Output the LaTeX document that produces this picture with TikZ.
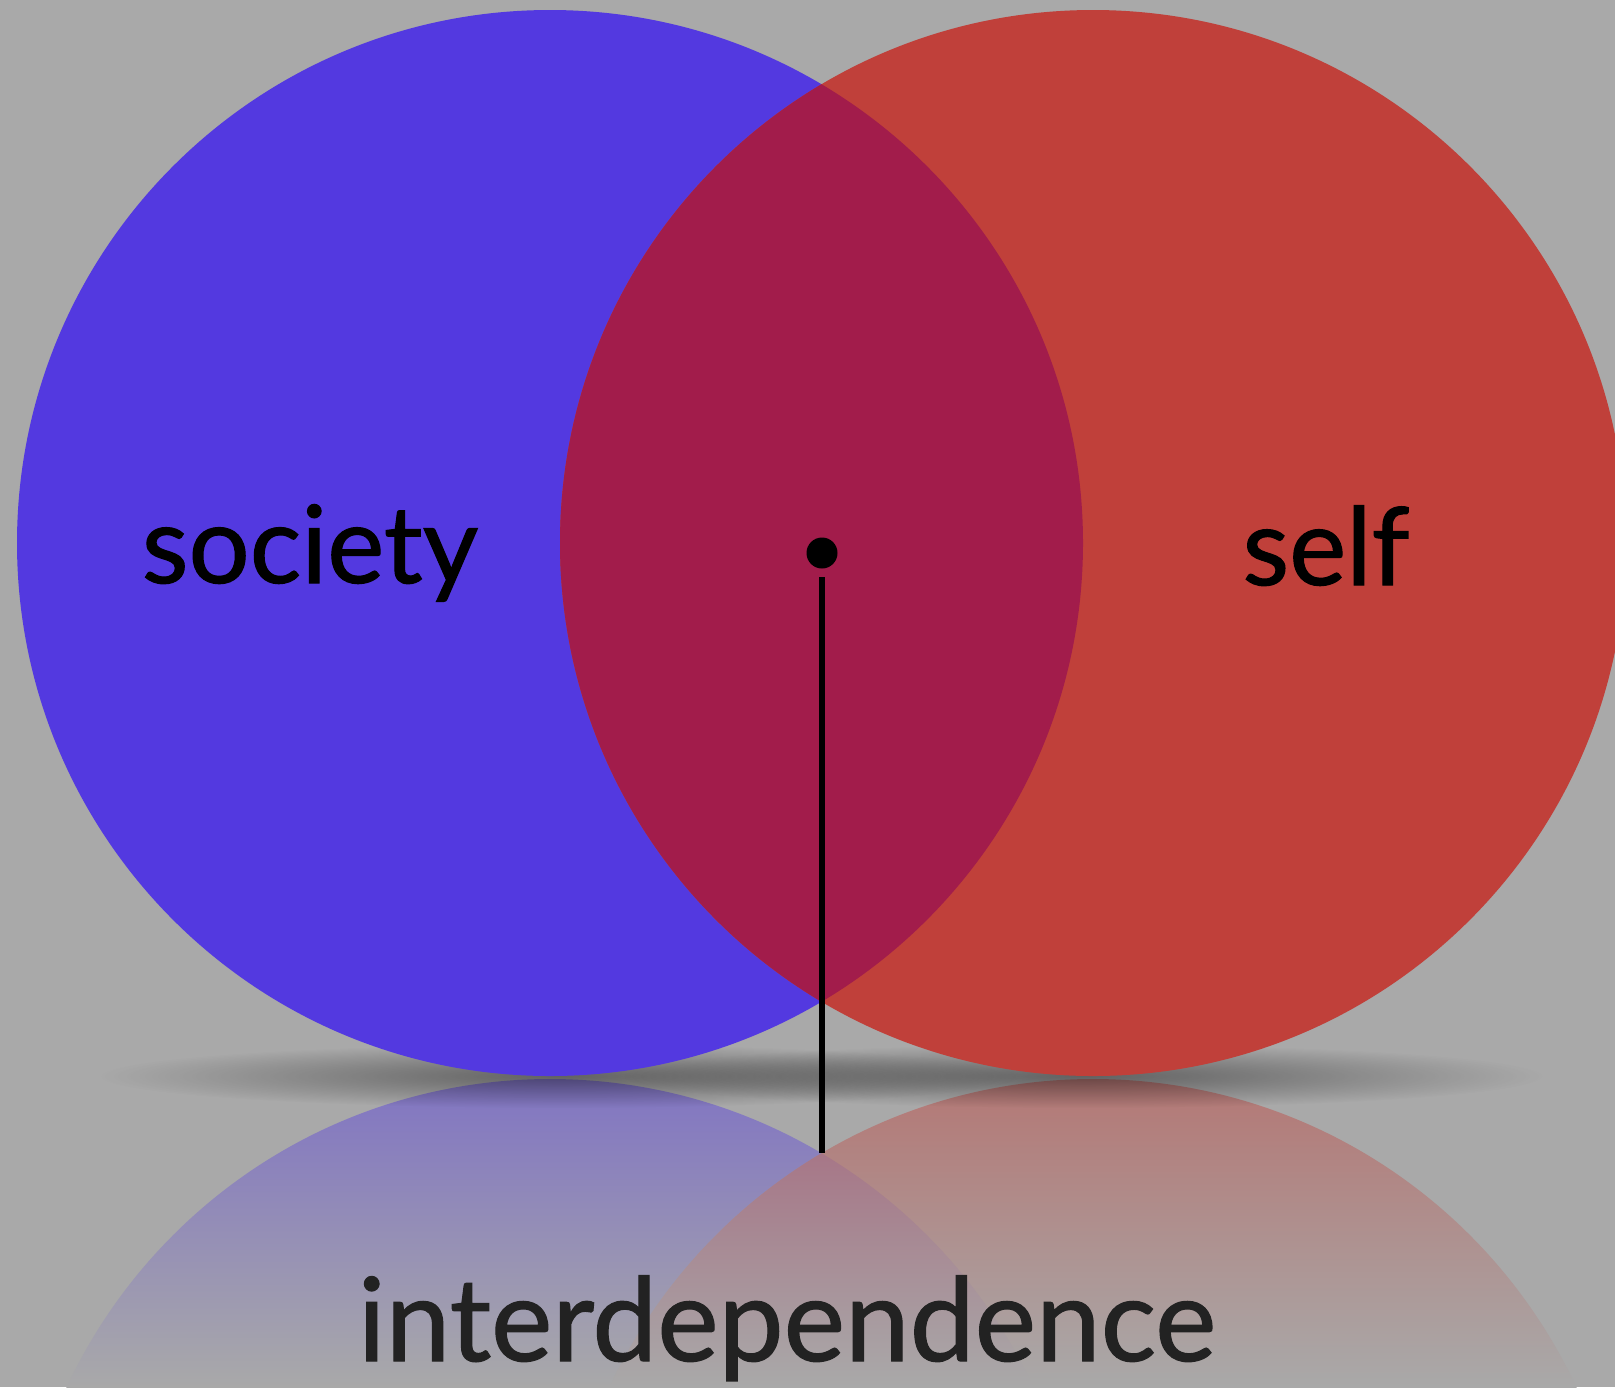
\documentclass[tikz,border=0pt]{standalone}
\usepackage{fontspec}
\setmainfont{Lato}
\newfontfamily\lblfont[FakeBold=1.0]{Lato}
\usetikzlibrary{fadings}
\definecolor{bgC}{HTML}{A9A9A9}
\definecolor{socC}{HTML}{5339E0}
\definecolor{selfC}{HTML}{C0403A}
\definecolor{lensC}{HTML}{A21C4B}
\definecolor{txtC}{HTML}{222222}
\tikzfading[name=shadowfade, inner color=transparent!0, outer color=transparent!100]
\begin{document}
\begin{tikzpicture}[x=0.01cm, y=-0.01cm,
  lbl/.style={font=\lblfont\fontsize{30.7}{36}\selectfont, text=black, inner sep=0pt, anchor=base},
  biglbl/.style={font=\lblfont\fontsize{33}{40}\selectfont, text=txtC, inner sep=0pt, anchor=base},
  refl/.style={top color=#1!47!bgC, bottom color=bgC},
  shadowblob/.style={fill=black, fill opacity=0.42, path fading=shadowfade},
  dotstyle/.style={circle, fill=black, inner sep=0pt, minimum size=0.31cm},
  stem/.style={draw=black, line width=1.45pt, shorten <=0.08cm}]
\useasboundingbox (0,0) rectangle (1615,1387);
\clip (0,0) rectangle (1615,1387);
\fill[bgC] (0,0) rectangle (1615,1387);
% reflections
\begin{scope}
  \clip (550,1612) circle (533);
  \shade[refl=socC] (0,1079) rectangle (1615,1387);
\end{scope}
\begin{scope}
  \clip (1093,1612) circle (533);
  \shade[refl=selfC] (0,1079) rectangle (1615,1387);
\end{scope}
\begin{scope}
  \clip (550,1612) circle (533);
  \clip (1093,1612) circle (533);
  \shade[refl=lensC] (0,1079) rectangle (1615,1387);
\end{scope}
% shadows
\path[shadowblob] (560,1076) ellipse (460 and 32);
\path[shadowblob] (1083,1076) ellipse (460 and 32);
% main circles
\fill[socC] (550,543) circle (533);
\fill[selfC] (1093,543) circle (533);
\begin{scope}
  \clip (550,543) circle (533);
  \fill[lensC] (1093,543) circle (533);
\end{scope}
% labels
\node[lbl] (soc) at (310,583) {society};
\node[lbl] (slf) at (1326,585) {self};
\node[biglbl] (inter) at (787,1361) {interdependence};
% dot and stem
\node[dotstyle] (dot) at (822,553) {};
\coordinate (stemend) at (822,1153);
\draw[stem] (dot.south) -- (stemend);
\end{tikzpicture}
\end{document}
